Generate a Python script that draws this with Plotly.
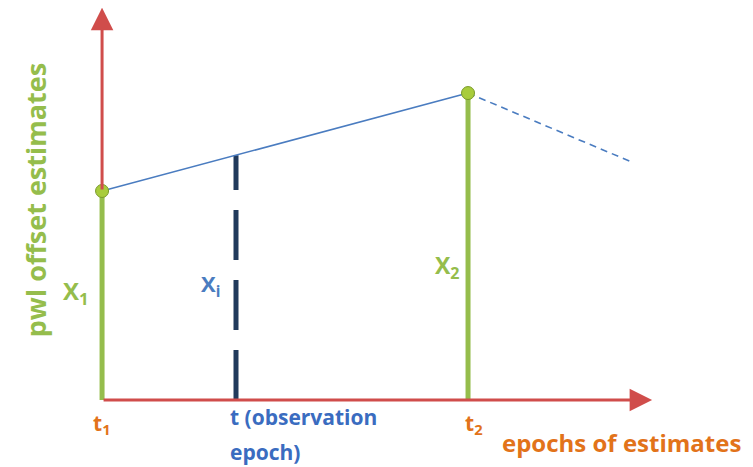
import plotly.graph_objects as go

# ---- data (conceptual units) ----
epochs = [0.0, 1.0]            # t1, t2
estimates = [0.681, 1.0]       # X1, X2
obs_epoch = 0.366              # t (observation epoch)
extrap_epoch = 1.448           # end of dashed continuation
extrap_value = 0.775
axis_x_end = 1.503
axis_y_end = 1.278
epoch_labels = ["t<sub>1</sub>", "t<sub>2</sub>"]
estimate_labels = ["X<sub>1</sub>", "X<sub>2</sub>"]

RED = "#d04d4b"
GREEN = "#95bd4c"
BLUE = "#4a7cc0"
NAVY = "#213a5c"
ORANGE = "#e2731a"
FONT = "Open Sans"

slope = (estimates[1] - estimates[0]) / (epochs[1] - epochs[0])
xi_val = estimates[0] + slope * (obs_epoch - epochs[0])

fig = go.Figure()

# x axis arrow
fig.add_annotation(x=axis_x_end, y=0, ax=epochs[0], ay=0, xref="x", yref="y",
                   axref="x", ayref="y", showarrow=True, arrowhead=2,
                   arrowsize=1.5, arrowwidth=3, arrowcolor=RED, text="")
# y axis arrow (above first estimate; below it the green bar covers the axis)
fig.add_annotation(x=epochs[0], y=axis_y_end, ax=epochs[0], ay=estimates[0], xref="x", yref="y",
                   axref="x", ayref="y", showarrow=True, arrowhead=2,
                   arrowsize=1.5, arrowwidth=3, arrowcolor=RED, text="")

# green vertical bars for estimates
for xv, yv in zip(epochs, estimates):
    fig.add_trace(go.Scatter(x=[xv, xv], y=[0, yv], mode="lines",
                             line=dict(color=GREEN, width=5), hoverinfo="skip"))

# dashed navy observation line
fig.add_trace(go.Scatter(x=[obs_epoch, obs_epoch], y=[0, xi_val], mode="lines",
                         line=dict(color=NAVY, width=5, dash="50px,20px"), hoverinfo="skip"))

# blue line between estimates
fig.add_trace(go.Scatter(x=epochs, y=estimates, mode="lines",
                         line=dict(color=BLUE, width=1.6), hoverinfo="skip"))
# dashed continuation
fig.add_trace(go.Scatter(x=[epochs[1], extrap_epoch], y=[estimates[1], extrap_value],
                         mode="lines", line=dict(color=BLUE, width=1.6, dash="7px,5px"),
                         hoverinfo="skip"))

# points
fig.add_trace(go.Scatter(x=epochs, y=estimates, mode="markers",
                         marker=dict(color="#a8cc3c", size=13, symbol="circle",
                                     line=dict(color="#7a9a2a", width=1)),
                         hoverinfo="skip"))

def label(x, y, text, size, color, xanchor="center", angle=0):
    fig.add_annotation(x=x, y=y, text="<b>" + text + "</b>", showarrow=False,
                       xanchor=xanchor, yanchor="middle", textangle=angle,
                       font=dict(family=FONT, size=size, color=color))

label(-0.071, 0.352, estimate_labels[0], 24, GREEN)
label(0.945, 0.436, estimate_labels[1], 23, GREEN)
label(0.295, 0.375, "X<sub>i</sub>", 22, BLUE)
label(epochs[0], -0.078, epoch_labels[0], 21, ORANGE)
label(epochs[1] + 0.016, -0.078, epoch_labels[1], 21, ORANGE)
label(0.344, -0.055, "t (observation", 21, "#3a6cc0", xanchor="left")
label(0.344, -0.169, "epoch)", 21, "#3a6cc0", xanchor="left")
label(1.087, -0.137, "epochs of estimates", 24, ORANGE, xanchor="left")
label(-0.183, 0.651, "pwl offset estimates", 27, GREEN, angle=-90)

# body margin of the page is 8px: ranges chosen so the figure aligns to the window
fig.update_layout(
    width=753, height=467,
    margin=dict(l=0, r=0, t=0, b=0),
    plot_bgcolor="white", paper_bgcolor="white",
    showlegend=False,
    xaxis=dict(range=[-0.257, 1.8005], visible=False, fixedrange=True),
    yaxis=dict(range=[-0.244, 1.277], visible=False, fixedrange=True),
)

fig.write_html("out.html")
